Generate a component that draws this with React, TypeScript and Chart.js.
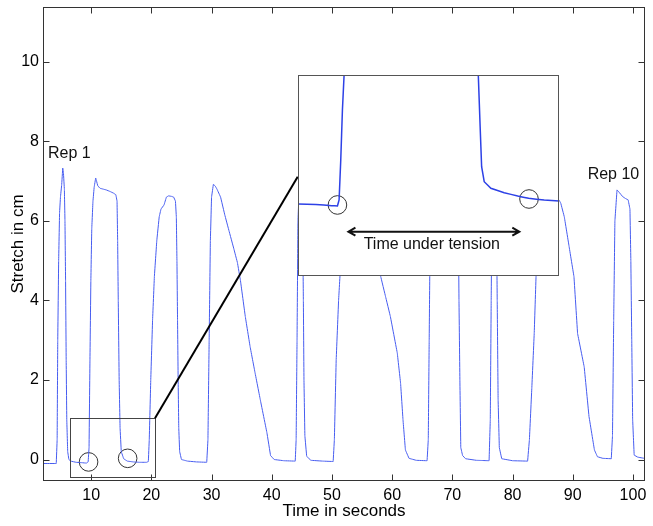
import React, { useEffect, useRef } from 'react';
import { Chart, registerables } from 'chart.js';

Chart.register(...registerables);

// ---- main trace (seconds, cm) ----
const time = [
  2.0, 4.2, 4.35, 4.45, 4.6, 4.75, 4.9, 5.1, 5.28, 5.4, 5.55, 5.65, 5.75, 5.85, 5.95, 6.1, 6.3, 6.6, 7.5, 8.5, 9.2, 9.5,
  9.65, 9.8, 9.95, 10.1, 10.3, 10.5, 10.75, 10.9, 11.1, 11.5, 12.0, 12.5, 13.15, 13.7, 14.1, 14.3, 14.4, 14.5, 14.65, 14.8,
  15.0, 15.4, 16.0, 17.0, 18.0, 19.2, 19.5, 19.65, 19.9, 20.2, 20.5, 20.9, 21.3, 21.6, 22.1, 22.5, 22.85, 23.3, 23.7, 24.0,
  24.15, 24.25, 24.35, 24.45, 24.55, 24.7, 25.0, 26.0, 27.5, 29.2, 29.4, 29.6, 29.8, 30.0, 30.3, 30.6, 30.9, 31.5, 32.2,
  32.9, 33.7, 34.3, 34.8, 35.6, 36.4, 37.2, 38.1, 39.2, 39.8, 40.4, 42.0, 43.9, 44.05, 44.2, 44.35, 44.6, 44.9, 45.1, 45.25,
  45.35, 45.5, 45.8, 46.5, 48.5, 50.2, 50.4, 50.7, 51.1, 51.4, 51.8, 52.3, 53.0, 56.0, 57.5, 58.1, 58.9, 59.7, 60.85, 61.4,
  61.8, 62.2, 62.8, 64.0, 65.8, 66.0, 66.15, 66.3, 66.5, 67.0, 68.5, 70.5, 71.0, 71.1, 71.25, 71.4, 71.7, 72.2, 74.0, 76.1,
  76.3, 76.45, 76.6, 76.9, 77.3, 77.45, 77.6, 77.8, 78.2, 80.0, 82.5, 82.8, 83.2, 83.6, 83.9, 84.3, 84.6, 85.5, 87.0, 87.7,
  88.0, 88.6, 89.4, 90.2, 90.8, 91.9, 92.7, 93.6, 94.1, 95.0, 96.4, 96.6, 96.8, 97.0, 97.35, 97.7, 98.3, 98.8, 99.2, 99.5,
  99.65, 99.8, 99.95, 100.2, 100.8, 101.9, 102.0,
];
const stretch = [
  -0.1, -0.1, 0.5, 3.0, 5.0, 6.2, 6.6, 6.9, 7.33, 7.2, 6.8, 6.0, 4.5, 2.5, 1.0, 0.2, 0.0, -0.04, -0.07, -0.08, -0.09, -0.06,
  0.3, 2.5, 4.5, 5.8, 6.5, 6.85, 7.08, 7.0, 6.88, 6.82, 6.8, 6.78, 6.74, 6.7, 6.66, 6.5, 5.5, 4.0, 2.0, 0.8,
  0.2, 0.02, -0.04, -0.06, -0.07, -0.07, -0.05, 0.5, 2.0, 3.5, 4.6, 5.5, 6.1, 6.3, 6.4, 6.6, 6.63, 6.62, 6.6, 6.5,
  6.1, 5.0, 3.5, 2.0, 0.8, 0.2, 0.0, -0.04, -0.06, -0.07, 0.5, 3.0, 5.5, 6.6, 6.92, 6.88, 6.8, 6.6, 6.15,
  5.75, 5.3, 4.95, 4.5, 3.6, 2.84, 2.2, 1.5, 0.67, 0.1, 0.0, -0.03, -0.04, 0.5, 3.0, 6.0, 7.0, 7.1, 6.5, 4.0,
  2.0, 0.6, 0.08, -0.02, -0.04, -0.05, 0.5, 2.5, 4.0, 4.8, 6.5, 7.0, 6.8, 6.6, 6.2, 4.6, 4.1, 3.6, 2.68, 1.92,
  1.0, 0.24, 0.03, -0.02, -0.03, 0.5, 3.0, 5.5, 6.8, 7.1, 6.9, 6.7, 6.0, 4.0, 2.0, 0.3, 0.1, 0.02, -0.02, -0.03,
  1.0, 4.0, 6.8, 7.0, 6.6, 4.0, 1.5, 0.3, 0.02, -0.03, -0.04, 0.5, 1.8, 3.18, 4.6, 6.2, 7.0, 6.75, 6.58, 6.53,
  6.45, 6.1, 5.35, 4.6, 3.17, 2.33, 1.08, 0.24, 0.07, 0.03, 0.02, 0.6, 3.5, 6.0, 6.78, 6.72, 6.61, 6.56, 6.53, 6.3,
  5.0, 3.0, 1.0, 0.11, 0.06, 0.03, 0.02,
];

// circles marking start / end of tension in the small box
const circleTime = [9.57, 16.06];
const circleStretch = [-0.06, 0.03];

// ticks
const xTicks = [10, 20, 30, 40, 50, 60, 70, 80, 90, 100];
const yTicks = [0, 2, 4, 6, 8, 10];

// zoom box (data region magnified) and inset box (where it is shown)
const zoomBoxTime = [6.5, 20.6];
const zoomBoxStretch = [-0.44, 1.04];
const insetBoxTime = [44.31, 87.69];
const insetBoxStretch = [4.62, 9.67];
const connectorEndStretch = 7.11;

// labels
const repLabels = ['Rep 1', 'Rep 10'];
const repLabelTime = [2.83, 92.47];
const repLabelStretch = [7.69, 7.16];

// ---- inset (magnified) trace ----
const insetTime = [6.5, 7.46, 8.32, 8.63, 8.72, 8.81, 8.9, 8.99, 9.05, null, 16.17, 16.24, 16.34, 16.42, 16.56, 16.92, 17.64, 18.37, 18.96, 19.8, 20.6];
const insetStretch = [0.09, 0.086, 0.078, 0.075, 0.12, 0.414, 0.782, 1.04, 1.3, null, 1.3, 1.04, 0.659, 0.365, 0.254, 0.206, 0.173, 0.149, 0.132, 0.12, 0.112];
const insetCircleTime = [8.63, 18.98];
const insetCircleStretch = [0.083, 0.127];
const arrowTime = [9.17, 18.51];
const arrowStretch = -0.114;
const tensionLabel = 'Time under tension';
const tensionLabelTime = 13.73;
const tensionLabelStretch = -0.212;

const FONT = '"Liberation Sans", Arial, Helvetica, sans-serif';

export default function App() {
  const mainRef = useRef<HTMLCanvasElement>(null);
  const insetRef = useRef<HTMLCanvasElement>(null);

  useEffect(() => {
    const mainCanvas = mainRef.current!;
    const insetCanvas = insetRef.current!;

    const framePlugin = {
      id: 'frame',
      afterDatasetsDraw(chart: any) {
        const { ctx, chartArea: a, scales } = chart;
        const xs = scales.x, ys = scales.y;
        ctx.save();
        ctx.strokeStyle = '#333';
        ctx.lineWidth = 1;
        const L = Math.round(a.left) + 0.5, R = Math.round(a.right) - 0.5;
        const T = Math.round(a.top) + 0.5, B = Math.round(a.bottom) - 0.5;
        ctx.strokeRect(L, T, R - L, B - T);
        const tl = 6;
        ctx.beginPath();
        xTicks.forEach((v) => {
          const p = Math.round(xs.getPixelForValue(v)) + 0.5;
          ctx.moveTo(p, B); ctx.lineTo(p, B - tl);
          ctx.moveTo(p, T); ctx.lineTo(p, T + tl);
        });
        yTicks.forEach((v) => {
          const p = Math.round(ys.getPixelForValue(v)) + 0.5;
          ctx.moveTo(L, p); ctx.lineTo(L + tl, p);
          ctx.moveTo(R, p); ctx.lineTo(R - tl, p);
        });
        ctx.stroke();

        // small zoom box
        const bx0 = xs.getPixelForValue(zoomBoxTime[0]);
        const bx1 = xs.getPixelForValue(zoomBoxTime[1]);
        const by0 = ys.getPixelForValue(zoomBoxStretch[1]);
        const by1 = ys.getPixelForValue(zoomBoxStretch[0]);
        ctx.strokeStyle = '#444';
        ctx.lineWidth = 1;
        ctx.strokeRect(Math.round(bx0) + 0.5, Math.round(by0) + 0.5, Math.round(bx1 - bx0), Math.round(by1 - by0));

        // connector line
        ctx.strokeStyle = '#000';
        ctx.lineWidth = 2;
        ctx.beginPath();
        ctx.moveTo(bx1, by0);
        ctx.lineTo(xs.getPixelForValue(insetBoxTime[0]), ys.getPixelForValue(connectorEndStretch));
        ctx.stroke();

        // rep labels
        ctx.fillStyle = '#111';
        ctx.font = `16px ${FONT}`;
        ctx.textAlign = 'left';
        ctx.textBaseline = 'middle';
        repLabels.forEach((t, i) => {
          ctx.fillText(t, xs.getPixelForValue(repLabelTime[i]), ys.getPixelForValue(repLabelStretch[i]));
        });
        ctx.restore();
      },
    };

    const main = new Chart(mainCanvas, {
      type: 'line',
      data: {
        datasets: [
          {
            data: time.map((x, i) => ({ x, y: stretch[i] })),
            borderColor: 'rgb(70,92,240)',
            borderWidth: 1,
            pointRadius: 0,
            tension: 0.000001,
            fill: false,
          },
          {
            type: 'scatter',
            data: circleTime.map((x, i) => ({ x, y: circleStretch[i] })),
            pointRadius: 9.3,
            pointStyle: 'circle',
            pointBorderColor: '#333',
            pointBackgroundColor: 'rgba(0,0,0,0)',
            pointBorderWidth: 1,
            showLine: false,
          } as any,
        ],
      },
      options: {
        animation: false,
        responsive: false,
        devicePixelRatio: 1,
        layout: { autoPadding: false, padding: { left: 0, right: 8, top: 7, bottom: 0 } },
        plugins: { legend: { display: false }, tooltip: { enabled: false } },
        scales: {
          x: {
            type: 'linear',
            min: 2,
            max: 102,
            grid: { display: false, drawTicks: false },
            border: { display: false },
            ticks: { color: '#000', font: { family: FONT, size: 16 }, padding: 5, maxRotation: 0, autoSkip: false },
            afterBuildTicks: (s: any) => { s.ticks = xTicks.map((v) => ({ value: v })); },
            afterFit: (s: any) => { s.height = 45; s.paddingLeft = 0; s.paddingRight = 0; },
            title: { display: true, text: 'Time in seconds', color: '#000', font: { family: FONT, size: 17 }, padding: { top: 0, bottom: 4 } },
          },
          y: {
            type: 'linear',
            min: -0.54,
            max: 11.38,
            grid: { display: false, drawTicks: false },
            border: { display: false },
            ticks: { color: '#000', font: { family: FONT, size: 16 }, padding: 4 },
            afterBuildTicks: (s: any) => { s.ticks = yTicks.map((v) => ({ value: v })); },
            afterFit: (s: any) => { s.width = 43; s.paddingTop = 0; s.paddingBottom = 0; },
            title: { display: true, text: 'Stretch in cm', color: '#000', font: { family: FONT, size: 17 }, padding: { top: 8, bottom: 0 } },
          },
        },
      } as any,
      plugins: [framePlugin],
    });

    // position the inset using the main chart's scales
    const xs = main.scales.x, ys = main.scales.y;
    const il = Math.round(xs.getPixelForValue(insetBoxTime[0]));
    const ir = Math.round(xs.getPixelForValue(insetBoxTime[1]));
    const it = Math.round(ys.getPixelForValue(insetBoxStretch[1]));
    const ib = Math.round(ys.getPixelForValue(insetBoxStretch[0]));
    const w = ir - il, h = ib - it;
    insetCanvas.width = w;
    insetCanvas.height = h;
    insetCanvas.style.left = il + 'px';
    insetCanvas.style.top = it + 'px';
    insetCanvas.style.width = w + 'px';
    insetCanvas.style.height = h + 'px';

    const insetPlugin = {
      id: 'insetDeco',
      beforeDraw(chart: any) {
        const { ctx } = chart;
        ctx.save();
        ctx.fillStyle = '#fff';
        ctx.fillRect(0, 0, chart.width, chart.height);
        ctx.restore();
      },
      afterDatasetsDraw(chart: any) {
        const { ctx, scales } = chart;
        const sx = scales.x, sy = scales.y;
        ctx.save();
        const x0 = sx.getPixelForValue(arrowTime[0]);
        const x1 = sx.getPixelForValue(arrowTime[1]);
        const y = sy.getPixelForValue(arrowStretch);
        ctx.strokeStyle = '#111';
        ctx.lineWidth = 2;
        ctx.beginPath();
        ctx.moveTo(x0 + 1, y); ctx.lineTo(x1 - 1, y);
        ctx.moveTo(x0 + 8, y - 4); ctx.lineTo(x0 + 1, y); ctx.lineTo(x0 + 8, y + 4);
        ctx.moveTo(x1 - 8, y - 4); ctx.lineTo(x1 - 1, y); ctx.lineTo(x1 - 8, y + 4);
        ctx.stroke();
        ctx.fillStyle = '#111';
        ctx.font = `16px ${FONT}`;
        ctx.textAlign = 'center';
        ctx.textBaseline = 'middle';
        ctx.fillText(tensionLabel, sx.getPixelForValue(tensionLabelTime), sy.getPixelForValue(tensionLabelStretch));
        ctx.strokeStyle = '#555';
        ctx.lineWidth = 1;
        ctx.strokeRect(0.5, 0.5, chart.width - 1, chart.height - 1);
        ctx.restore();
      },
    };

    const inset = new Chart(insetCanvas, {
      type: 'line',
      data: {
        datasets: [
          {
            data: insetTime.map((x, i) => (x === null ? { x: NaN, y: NaN } : { x, y: insetStretch[i] })),
            borderColor: 'rgb(45,65,230)',
            borderWidth: 1.5,
            pointRadius: 0,
            tension: 0.000001,
            spanGaps: false,
          },
          {
            type: 'scatter',
            data: insetCircleTime.map((x, i) => ({ x, y: insetCircleStretch[i] })),
            pointRadius: 9.3,
            pointStyle: 'circle',
            pointBorderColor: '#333',
            pointBackgroundColor: 'rgba(0,0,0,0)',
            pointBorderWidth: 1,
            showLine: false,
          } as any,
        ],
      },
      options: {
        animation: false,
        responsive: false,
        devicePixelRatio: 1,
        layout: { autoPadding: false, padding: 0 },
        plugins: { legend: { display: false }, tooltip: { enabled: false } },
        scales: {
          x: { type: 'linear', display: false, min: zoomBoxTime[0], max: zoomBoxTime[1] },
          y: { type: 'linear', display: false, min: zoomBoxStretch[0], max: zoomBoxStretch[1] },
        },
      } as any,
      plugins: [insetPlugin],
    });

    return () => {
      main.destroy();
      inset.destroy();
    };
  }, []);

  return (
    <div style={{ position: 'fixed', left: 0, top: 0, width: 653, height: 526, background: '#fff' }}>
      <canvas ref={mainRef} width={653} height={526} style={{ position: 'absolute', left: 0, top: 0, width: 653, height: 526 }} />
      <canvas ref={insetRef} style={{ position: 'absolute' }} />
    </div>
  );
}
